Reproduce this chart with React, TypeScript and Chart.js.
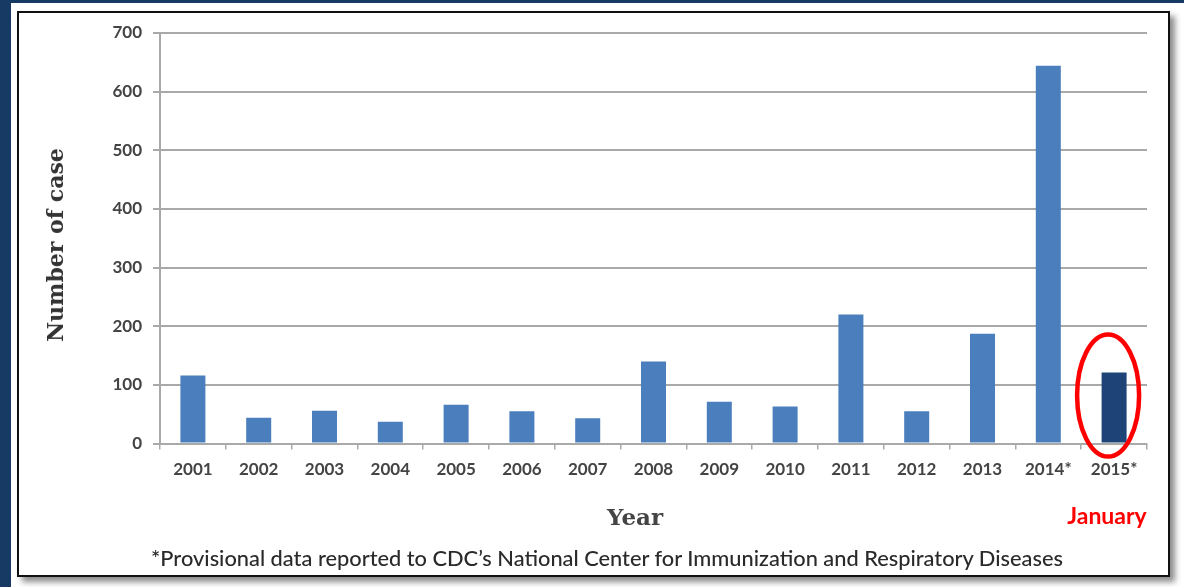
import React, { useEffect, useRef } from "react";
import { Chart, registerables } from "chart.js";

Chart.register(...registerables);

const years: string[] = [
  "2001", "2002", "2003", "2004", "2005", "2006", "2007", "2008",
  "2009", "2010", "2011", "2012", "2013", "2014*", "2015*",
];
const cases: number[] = [116, 44, 56, 37, 66, 55, 43, 140, 71, 63, 220, 55, 187, 644, 121];
const yMin = 0;
const yMax = 700;
const yStep = 100;
const highlightLabel = "2015*";

const LIGHT = "#4a7ebd";
const DARK = "#1e4477";
const GRID = "#a9a9a9";
const TEXT = "#444444";

const ellipsePlugin = {
  id: "ellipseMark",
  afterDatasetsDraw(chart: any) {
    const idx = years.indexOf(highlightLabel);
    const meta = chart.getDatasetMeta(0);
    const bar = meta.data[idx];
    if (!bar) return;
    const ctx = chart.ctx;
    const cx = bar.x - 6;
    const cy = (bar.y + bar.base) / 2 - 12;
    ctx.save();
    ctx.strokeStyle = "#ff0000";
    ctx.lineWidth = 4.5;
    ctx.beginPath();
    ctx.ellipse(cx, cy, 31, 61, 0, 0, Math.PI * 2);
    ctx.stroke();
    ctx.restore();
  },
};

export default function App() {
  const ref = useRef<HTMLCanvasElement | null>(null);

  useEffect(() => {
    if (!ref.current) return;
    const chart = new Chart(ref.current, {
      type: "bar",
      data: {
        labels: years,
        datasets: [
          {
            data: cases,
            backgroundColor: years.map((y) => (y === highlightLabel ? DARK : LIGHT)),
            borderWidth: 0,
            barPercentage: 0.38,
            categoryPercentage: 1,
          },
        ],
      },
      options: {
        responsive: false,
        animation: false,
        layout: { padding: { top: 33, right: 37, bottom: 98.5, left: 0 } },
        plugins: { legend: { display: false }, tooltip: { enabled: false } },
        scales: {
          x: {
            offset: true,
            grid: {
              display: true,
              drawOnChartArea: false,
              offset: true,
              color: GRID,
              lineWidth: 1.5,
              tickLength: 6,
            },
            border: { display: true, color: GRID, width: 2 },
            ticks: {
              color: TEXT,
              font: { family: "Lato", size: 17, weight: "bold" },
              padding: 10,
              maxRotation: 0,
              autoSkip: false,
            },
            afterFit: (s: any) => {
              s.height = 45;
            },
          },
          y: {
            min: yMin,
            max: yMax,
            grid: { color: GRID, lineWidth: 2, tickLength: 7 },
            border: { display: true, color: GRID, width: 2 },
            ticks: {
              stepSize: yStep,
              color: TEXT,
              font: { family: "Lato", size: 17, weight: "bold" },
              padding: 11,
            },
            afterFit: (s: any) => {
              s.width = 160;
            },
          },
        },
      },
      plugins: [ellipsePlugin],
    });
    return () => chart.destroy();
  }, []);

  return (
    <div
      style={{
        position: "fixed",
        left: 0,
        top: 0,
        width: 1184,
        height: 587,
        background: "#173a64",
        overflow: "hidden",
      }}
    >
      <div
        style={{
          position: "absolute",
          left: 11,
          top: 3,
          width: 1173,
          height: 584,
          background: "#ffffff",
        }}
      />
      <div
        style={{
          position: "absolute",
          left: 17,
          top: 11,
          width: 1149,
          height: 562,
          border: "2px solid #111",
          boxShadow: "5px 5px 6px rgba(0,0,0,0.45)",
          background: "#ffffff",
        }}
      />
      <canvas
        ref={ref}
        width={1184}
        height={587}
        style={{ position: "absolute", left: 0, top: 0, width: 1184, height: 587 }}
      />
      <div
        style={{
          position: "absolute",
          left: 55,
          top: 245,
          transform: "translate(-50%, -50%) rotate(-90deg)",
          fontFamily: "'DejaVu Serif', serif",
          fontWeight: "bold",
          fontSize: 22,
          color: "#333",
          whiteSpace: "nowrap",
        }}
      >
        Number of case
      </div>
      <div
        style={{
          position: "absolute",
          left: 635,
          top: 516,
          transform: "translate(-50%, -50%)",
          fontFamily: "'DejaVu Serif', serif",
          fontWeight: "bold",
          fontSize: 23,
          color: "#444",
          whiteSpace: "nowrap",
        }}
      >
        Year
      </div>
      <div
        style={{
          position: "absolute",
          left: 1107,
          top: 515,
          transform: "translate(-50%, -50%)",
          fontFamily: "Lato, sans-serif",
          fontWeight: "bold",
          fontSize: 23,
          color: "#ff0000",
          whiteSpace: "nowrap",
        }}
      >
        January
      </div>
      <div
        style={{
          position: "absolute",
          left: 607,
          top: 557,
          transform: "translate(-50%, -50%)",
          fontFamily: "Lato, sans-serif",
          fontSize: 21.8,
          fontWeight: 500,
          color: "#2a2a2a",
          whiteSpace: "nowrap",
        }}
      >
        *Provisional data reported to CDC’s National Center for Immunization and Respiratory Diseases
      </div>
    </div>
  );
}
